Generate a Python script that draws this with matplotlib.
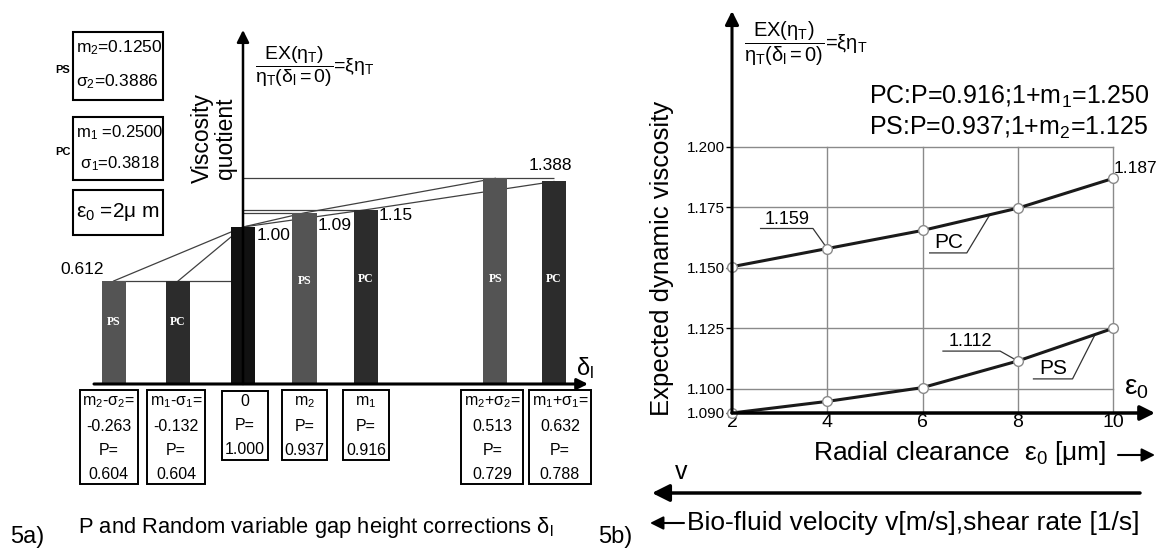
import matplotlib
matplotlib.use('Agg')
import matplotlib.pyplot as plt
from matplotlib.patches import Rectangle

plt.rcParams['font.family'] = ['Liberation Sans', 'DejaVu Sans']
plt.rcParams['mathtext.fontset'] = 'custom'
plt.rcParams['mathtext.rm'] = 'Liberation Sans'
plt.rcParams['mathtext.it'] = 'Liberation Sans'
plt.rcParams['mathtext.default'] = 'regular'

W, H = 1169, 553

# ---------------- 5a: bars of the viscosity quotient ----------------
bar_kind = ['PS', 'PC', '0', 'PS', 'PC', 'PS', 'PC']
delta = [-0.263, -0.132, 0.0, 0.125, 0.250, 0.513, 0.632]
quotient = [0.656, 0.656, 1.00, 1.09, 1.11, 1.31, 1.29]   # heights as drawn
box_text = [
    '$m_2$-$\\sigma_2$=\n-0.263\nP=\n0.604',
    '$m_1$-$\\sigma_1$=\n-0.132\nP=\n0.604',
    '0\nP=\n1.000',
    '$m_2$\nP=\n0.937',
    '$m_1$\nP=\n0.916',
    '$m_2$+$\\sigma_2$=\n0.513\nP=\n0.729',
    '$m_1$+$\\sigma_1$=\n0.632\nP=\n0.788',
]
value_labels = ['0.612', '1.00', '1.09', '1.15', '1.388']
ps_params = ['$m_2$=0.1250', '$\\sigma_2$=0.3886']
pc_params = ['$m_1$ =0.2500', ' $\\sigma_1$=0.3818']

# ---------------- 5b: expected dynamic viscosity ----------------
eps0 = [2, 4, 6, 8, 10]
pc_visc = [1.1505, 1.158, 1.1655, 1.1747, 1.187]
ps_visc = [1.090, 1.0948, 1.1005, 1.1115, 1.125]
y_ticks = [1.090, 1.100, 1.125, 1.150, 1.175, 1.200]

fig = plt.figure(figsize=(W / 100, H / 100), dpi=100)
bar_colors = {'PS': '#545454', 'PC': '#2c2c2c', '0': '#111111'}
formula = '$\\dfrac{EX(\\eta_T)}{\\eta_T(\\delta_l=0)}$=$\\xi\\eta_T$'
box_dx = [-5, -2, 2, 0, 0, -3, 6]   # small pixel nudges of the label boxes


def box(px_left, px_top, px_right, px_bottom):
    return [px_left / W, 1 - px_bottom / H, (px_right - px_left) / W, (px_bottom - px_top) / H]


# left axes: x px = 243 + 492*delta, y px = 384 - 157*v
ax1 = fig.add_axes(box(60, 20, 600, 384))
ax1.set_xlim((60 - 243) / 492, (600 - 243) / 492)
ax1.set_ylim(0, (384 - 20) / 157)
ax1.axis('off')

# connecting lines (behind the bars)
lc = '#404040'
ps_idx = [0, 2, 3, 5]
pc_idx = [1, 2, 4, 6]
ax1.plot([delta[i] for i in ps_idx], [quotient[i] for i in ps_idx], color=lc, lw=0.9, zorder=1)
ax1.plot([delta[i] for i in pc_idx], [quotient[i] for i in pc_idx], color=lc, lw=0.9, zorder=1)
ax1.hlines(quotient[0], delta[0], delta[2], color=lc, lw=0.9, zorder=1)
ax1.hlines([quotient[3], quotient[4]], 0, [delta[3], delta[4]], color=lc, lw=0.9, zorder=1)
ax1.hlines(quotient[5], 0, delta[6], color=lc, lw=0.9, zorder=1)

ax1.bar(delta, quotient, width=0.049, color=[bar_colors[k] for k in bar_kind], zorder=3)
for d, q, k in zip(delta, quotient, bar_kind):
    if k != '0':
        ax1.text(d, min(0.6 * q, 0.67), k, color='white', family='Liberation Serif',
                 fontsize=8.5, fontweight='bold', ha='center', va='center', zorder=4)
for d, t, dx in zip(delta, box_text, box_dx):
    ax1.annotate(t, xy=(d, 0), xytext=(dx, -10), textcoords='offset pixels',
                 ha='center', va='top', fontsize=11.5, linespacing=1.75, annotation_clip=False,
                 bbox=dict(boxstyle='square,pad=0.17', fc='white', ec='black', lw=1.4))
# y axis of 5a passes through delta = 0
ax1.annotate('', xy=(0, (384 - 30) / 157), xytext=(0, 0), annotation_clip=False,
             arrowprops=dict(arrowstyle='-|>', lw=1.8, color='black', mutation_scale=18,
                             shrinkA=0, shrinkB=0))

# right axes
ax2 = fig.add_axes(box(732, 147, 1113, 413))
ax2.set_xlim(2, 10)
ax2.set_ylim(1.090, 1.200)
ax2.set_facecolor('none')
for s in ax2.spines.values():
    s.set_visible(False)
ax2.set_xticks(eps0)
ax2.set_yticks(y_ticks)
ax2.set_yticklabels(['%.3f' % v for v in y_ticks])
ax2.tick_params(axis='x', length=0, labelsize=14, pad=1)
ax2.tick_params(axis='y', length=4, width=1, labelsize=11, pad=1)
ax2.grid(color='#8a8a8a', lw=1, clip_on=False)
ax2.plot(eps0, pc_visc, color='#1a1a1a', lw=2.2, zorder=3,
         marker='o', ms=7, mfc='white', mec='#8a8a8a', mew=1, clip_on=False)
ax2.plot(eps0, ps_visc, color='#1a1a1a', lw=2.2, zorder=3,
         marker='o', ms=7, mfc='white', mec='#8a8a8a', mew=1, clip_on=False)
# leader labels
ld = dict(color='#333333', lw=0.9, zorder=2, clip_on=False)
ax2.plot([2.6, 3.7, eps0[1]], [1.1663, 1.1663, pc_visc[1]], **ld)
ax2.text(3.15, 1.1667, '1.159', fontsize=13, ha='center', va='bottom')
ax2.plot([6.15, 6.93, 7.42], [1.1562, 1.1562, 1.1722], **ld)
ax2.text(6.55, 1.1565, 'PC', fontsize=15, ha='center', va='bottom')
ax2.plot([6.43, 7.63, eps0[3]], [1.1156, 1.1156, ps_visc[3]], **ld)
ax2.text(7.0, 1.116, '1.112', fontsize=13, ha='center', va='bottom')
ax2.plot([8.33, 9.15, 9.62], [1.1041, 1.1041, 1.1223], **ld)
ax2.text(8.74, 1.1044, 'PS', fontsize=15, ha='center', va='bottom')
ax2.text(10.02, pc_visc[4] + 0.001, '1.187', fontsize=12.5, ha='left', va='bottom', clip_on=False)

# overlay in pixel coordinates for axes arrows and free text
ov = fig.add_axes([0, 0, 1, 1])
ov.set_xlim(0, W)
ov.set_ylim(H, 0)
ov.axis('off')


def arrow(x0, y0, x1, y1, lw=2, ms=18):
    ov.annotate('', xy=(x1, y1), xytext=(x0, y0),
                arrowprops=dict(arrowstyle='-|>', lw=lw, color='black',
                                mutation_scale=ms, shrinkA=0, shrinkB=0))


# 5a axes
arrow(94, 384, 588, 384, lw=2.2, ms=16)
ov.text(585, 368, '$\\delta_l$', fontsize=17, ha='center', va='center')
ov.text(214, 138, 'Viscosity\nquotient', rotation=90, fontsize=16.5, linespacing=1.0,
        ha='center', va='center')
ov.text(255, 67, formula, fontsize=14, ha='left', va='center')
for (x, y), t in zip([(82, 270), (274, 236), (335, 226), (396, 216), (550, 165)], value_labels):
    ov.text(x, y, t, fontsize=12.5, ha='center', va='center')

ov.add_patch(Rectangle((73, 32), 90, 68, fill=False, lw=1.5))
ov.text(76, 48, ps_params[0], fontsize=12.5, va='center')
ov.text(76, 82, ps_params[1], fontsize=12.5, va='center')
ov.text(63, 70, 'PS', fontsize=8, fontweight='bold', ha='center', va='center')
ov.add_patch(Rectangle((73, 117), 90, 63, fill=False, lw=1.5))
ov.text(76, 133, pc_params[0], fontsize=12, va='center')
ov.text(76, 164, pc_params[1], fontsize=12, va='center')
ov.text(63, 152, 'PC', fontsize=8, fontweight='bold', ha='center', va='center')
ov.add_patch(Rectangle((73, 190), 90, 45, fill=False, lw=1.5))
ov.text(118, 212, '$\\epsilon_0$ =2$\\mu$ m', fontsize=15, ha='center', va='center')

ov.text(316, 527, 'P and Random variable gap height corrections $\\delta_l$', fontsize=15.8,
        ha='center', va='center')
ov.text(10, 537, '5a)', fontsize=17, ha='left', va='center')

# 5b axes
arrow(732, 413, 1155, 413, lw=2.5, ms=22)
arrow(732, 413, 732, 11, lw=2.2, ms=20)
ov.text(1136, 388, '$\\epsilon_0$', fontsize=20, ha='center', va='center')
ov.text(744, 44, formula, fontsize=14.5, ha='left', va='center')
ov.text(869, 97, 'PC:P=0.916;1+$m_1$=1.250', fontsize=18, ha='left', va='center')
ov.text(869, 128, 'PS:P=0.937;1+$m_2$=1.125', fontsize=18, ha='left', va='center')
ov.text(662, 258, 'Expected dynamic viscosity', rotation=90, fontsize=18.5,
        ha='center', va='center')
ov.text(1106, 453, 'Radial clearance  $\\epsilon_0$ [$\\mu$m]', fontsize=19, ha='right', va='center')
arrow(1118, 455, 1155, 455, lw=1.5, ms=20)
arrow(1140, 493, 652, 493, lw=2.5, ms=26)
ov.text(681, 472, 'v', fontsize=18, ha='center', va='center')
arrow(684, 523, 650, 523, lw=1.5, ms=20)
ov.text(687, 523, 'Bio-fluid velocity v[m/s],shear rate [1/s]', fontsize=19,
        ha='left', va='center')
ov.text(598, 537, '5b)', fontsize=17, ha='left', va='center')

fig.savefig('out.png', dpi=100)
